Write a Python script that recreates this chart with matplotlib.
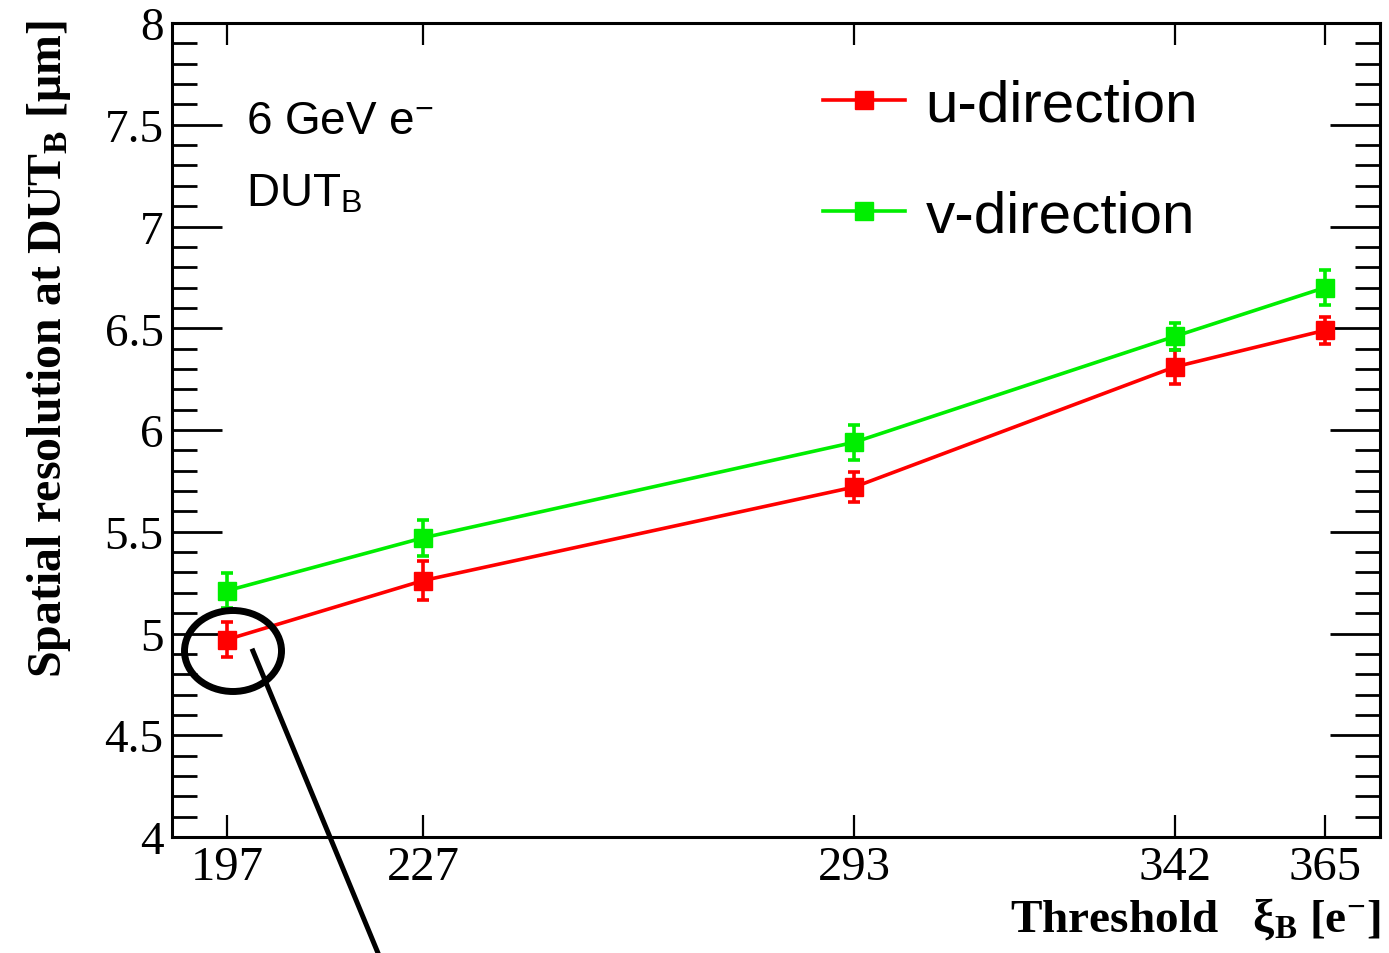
import matplotlib
matplotlib.use("Agg")
import matplotlib.pyplot as plt
from matplotlib.patches import Ellipse
from matplotlib.lines import Line2D
from matplotlib.ticker import MultipleLocator, FixedLocator, FuncFormatter

plt.rcParams['font.family'] = ['Liberation Serif', 'DejaVu Serif']
plt.rcParams['mathtext.fontset'] = 'custom'
plt.rcParams['mathtext.rm'] = 'Liberation Serif'
plt.rcParams['mathtext.it'] = 'Liberation Serif:italic'
plt.rcParams['mathtext.bf'] = 'Liberation Serif:bold'
plt.rcParams['mathtext.sf'] = 'Liberation Sans'

# Threshold settings [e-]
thresholds = [197, 227, 293, 342, 365]
threshold_labels = ["197", "227", "293", "342", "365"]

# Spatial resolution [um] and uncertainties
u_res = [4.97, 5.26, 5.72, 6.31, 6.49]
u_err = [0.087, 0.096, 0.075, 0.085, 0.066]
v_res = [5.21, 5.47, 5.94, 6.46, 6.70]
v_err = [0.085, 0.090, 0.085, 0.067, 0.086]

W, H = 1389, 954
fig = plt.figure(figsize=(W / 100, H / 100), dpi=100)
ax = fig.add_axes([172 / W, 1 - 838 / H, (1380 - 172) / W, (838 - 24) / H])

red = "#ff0000"
green = "#00ee00"
handles = []
for y, e, c, lab in [(u_res, u_err, red, "u-direction"), (v_res, v_err, green, "v-direction")]:
    ax.errorbar(thresholds, y, yerr=e, color=c, lw=2.6, marker="s", ms=13,
                mec=c, mfc=c, elinewidth=2.6, capsize=4.5, capthick=2.6, zorder=3)
    handles.append(Line2D([], [], color=c, lw=2.6, marker="s", ms=13,
                          mec=c, mfc=c, label=lab))

ax.set_xlim(188.6, 373.4)
ax.set_ylim(4, 8)

for s in ax.spines.values():
    s.set_linewidth(2.2)

ax.xaxis.set_major_locator(FixedLocator(thresholds))
ax.set_xticklabels(threshold_labels)
ax.yaxis.set_major_locator(MultipleLocator(0.5))
ax.yaxis.set_minor_locator(MultipleLocator(0.1))
ax.yaxis.set_major_formatter(FuncFormatter(lambda v, p: f"{v:g}"))
ax.tick_params(axis="y", which="major", direction="in", length=36, width=2.0,
               left=True, right=True, labelsize=34, pad=6)
ax.tick_params(axis="y", which="minor", direction="in", length=18, width=2.0,
               left=True, right=True)
ax.tick_params(axis="x", which="major", direction="in", length=16, width=1.6,
               top=True, bottom=True, labelsize=35, pad=6)

ax.set_ylabel(r"Spatial resolution at DUT$_{\mathbf{B}}$ [μm]", fontsize=34.5,
              fontweight="bold", loc="top")
ax.yaxis.set_label_coords(-0.082, 1.005)
ax.set_xlabel(r"Threshold   ξ$_{\mathbf{B}}$ [e$^{\mathbf{-}}$]", fontsize=34,
              fontweight="bold", loc="right")
ax.xaxis.set_label_coords(1.0, -0.072)

ax.text(0.061, 0.865, r"6 GeV e$^{\mathsf{-}}$", transform=ax.transAxes,
        fontsize=33, family="Liberation Sans")
ax.text(0.061, 0.775, r"DUT$_{\mathsf{B}}$", transform=ax.transAxes,
        fontsize=33, family="Liberation Sans")

ax.legend(handles=handles, loc="upper left", bbox_to_anchor=(0.52, 0.96),
          frameon=False, prop={"family": "Liberation Sans", "size": 42},
          handlelength=1.4, handletextpad=0.35, labelspacing=0.97,
          borderaxespad=0)

# Highlight of the lowest-threshold point
ell = Ellipse((0.0505, 0.2285), 0.0803, 0.0995, transform=ax.transAxes,
              fill=False, lw=5.0, ec="black", clip_on=False, zorder=5)
ax.add_patch(ell)
ax.add_line(Line2D([0.067, 0.1705], [0.2285, -0.1425], transform=ax.transAxes,
                   color="black", lw=3.6, clip_on=False, zorder=5))

fig.savefig("out.png", dpi=100)
